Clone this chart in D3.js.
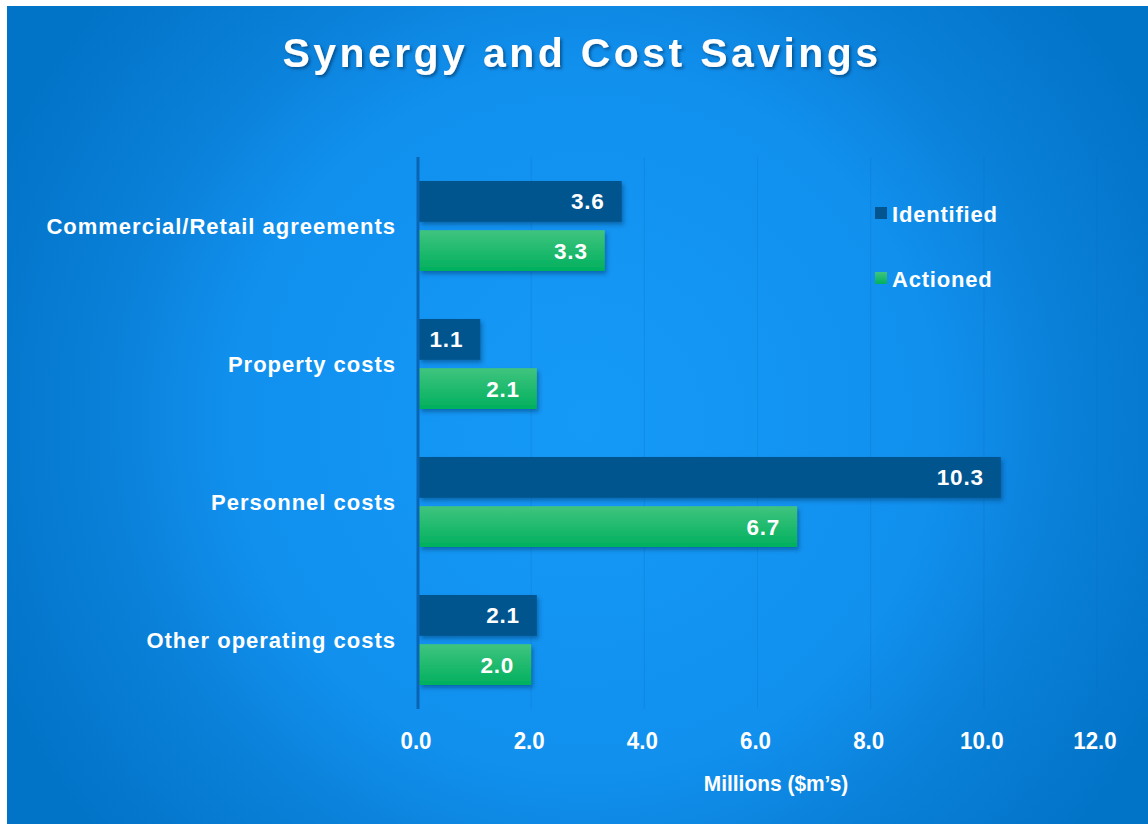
<!DOCTYPE html>
<html><head><meta charset="utf-8">
<script src="https://cdn.jsdelivr.net/npm/d3@7"></script>
<style>html,body{margin:0;padding:0;background:#fff;}svg{display:block;}</style>
</head><body>
<svg id="chart" width="1148" height="824"></svg>
<script>
const categories = ["Commercial/Retail agreements", "Property costs", "Personnel costs", "Other operating costs"];
const identified = [3.6, 1.1, 10.3, 2.1];
const actioned = [3.3, 2.1, 6.7, 2.0];
const seriesNames = ["Identified", "Actioned"];
const xTicks = [0, 2, 4, 6, 8, 10, 12];
const title = "Synergy and Cost Savings";
const xTitle = "Millions ($m\u2019s)";

const FONT = "Liberation Sans, Arial, sans-serif";
const svg = d3.select("#chart");
const defs = svg.append("defs");
const bg = defs.append("radialGradient").attr("id","bg").attr("gradientUnits","userSpaceOnUse")
  .attr("cx",585).attr("cy",420).attr("r",640);
bg.append("stop").attr("offset","0%").attr("stop-color","#159af8");
bg.append("stop").attr("offset","55%").attr("stop-color","#1190ee");
bg.append("stop").attr("offset","75%").attr("stop-color","#0a80d8");
bg.append("stop").attr("offset","100%").attr("stop-color","#0274c8");
const gg = defs.append("linearGradient").attr("id","green").attr("x1",0).attr("y1",0).attr("x2",0).attr("y2",1);
gg.append("stop").attr("offset","0%").attr("stop-color","#40c47e");
gg.append("stop").attr("offset","100%").attr("stop-color","#00b05e");
const sh = defs.append("filter").attr("id","shadow").attr("x","-5%").attr("y","-20%").attr("width","115%").attr("height","160%");
sh.append("feDropShadow").attr("dx",2).attr("dy",3).attr("stdDeviation",2).attr("flood-color","#003060").attr("flood-opacity",0.45);
const tsh = defs.append("filter").attr("id","tshadow").attr("x","-5%").attr("y","-20%").attr("width","110%").attr("height","150%");
tsh.append("feDropShadow").attr("dx",2).attr("dy",2).attr("stdDeviation",1.5).attr("flood-color","#003060").attr("flood-opacity",0.6);

svg.append("rect").attr("x",7).attr("y",6).attr("width",1141).attr("height",818).attr("fill","url(#bg)");

svg.append("text").attr("x",582).attr("y",67).attr("text-anchor","middle")
  .attr("font-family",FONT).attr("font-weight","bold")
  .attr("font-size",41).attr("letter-spacing",3.4).attr("fill","#fff").attr("filter","url(#tshadow)")
  .text(title);

const x = d3.scaleLinear().domain([0,12]).range([418, 1097]);
const y = d3.scaleBand().domain(categories).range([157, 709]).paddingInner(0).paddingOuter(0);
const inner = d3.scaleBand().domain(seriesNames).range([24, 114]).paddingInner(0.17);

// gridlines
svg.append("g").selectAll("line").data(xTicks.filter(d=>d>0)).join("line")
  .attr("x1",d=>x(d)).attr("x2",d=>x(d)).attr("y1",157).attr("y2",709)
  .attr("stroke","#0a6cc0").attr("stroke-opacity",0.25).attr("stroke-width",1);

const data = categories.map((c,i)=>({c, vals:[{s:"Identified",v:identified[i]},{s:"Actioned",v:actioned[i]}]}));
const colors = {Identified:"#02558f", Actioned:"url(#green)"};

const groups = svg.append("g").selectAll("g").data(data).join("g")
  .attr("transform",d=>`translate(0,${y(d.c)})`);
groups.selectAll("rect").data(d=>d.vals).join("rect")
  .attr("x",x(0)+1).attr("y",d=>inner(d.s)).attr("width",d=>x(d.v)-x(0)-1).attr("height",inner.bandwidth())
  .attr("fill",d=>colors[d.s]).attr("filter","url(#shadow)");
groups.selectAll("text").data(d=>d.vals).join("text")
  .attr("x",d=>x(d.v)-17).attr("y",d=>inner(d.s)+inner.bandwidth()/2+8)
  .attr("text-anchor","end").attr("font-family",FONT)
  .attr("font-weight","bold").attr("font-size",22.5).attr("letter-spacing",0.8).attr("fill","#fff")
  .text(d=>d.v.toFixed(1));

// axis line
svg.append("line").attr("x1",x(0)).attr("x2",x(0)).attr("y1",157).attr("y2",709)
  .attr("stroke","#0a64b4").attr("stroke-width",3);

// category labels
svg.append("g").selectAll("text").data(categories).join("text")
  .attr("x",396).attr("y",d=>y(d)+y.bandwidth()/2+8).attr("text-anchor","end")
  .attr("font-family",FONT).attr("font-weight","bold")
  .attr("font-size",22).attr("letter-spacing",1).attr("fill","#fff").text(d=>d);

// x tick labels (condensed look)
svg.append("g").selectAll("text").data(xTicks).join("text")
  .attr("transform",d=>`translate(${x(d)-2},749) scale(0.95,1)`)
  .attr("text-anchor","middle").attr("font-family",FONT).attr("font-weight","bold")
  .attr("font-size",23.5).attr("fill","#fff").text(d3.format(".1f"));

svg.append("text").attr("transform","translate(776,791) scale(0.93,1)").attr("text-anchor","middle")
  .attr("font-family",FONT).attr("font-weight","bold").attr("font-size",22.5).attr("fill","#fff").text(xTitle);

// legend
const legend = svg.append("g").selectAll("g").data(seriesNames).join("g")
  .attr("transform",(d,i)=>`translate(875,${207+i*65})`);
legend.append("rect").attr("width",12).attr("height",12).attr("fill",d=>colors[d]);
legend.append("text").attr("x",17).attr("y",14.5).attr("font-family",FONT)
  .attr("font-weight","bold").attr("font-size",22).attr("letter-spacing",0.8).attr("fill","#fff").text(d=>d);
</script>
</body></html>
